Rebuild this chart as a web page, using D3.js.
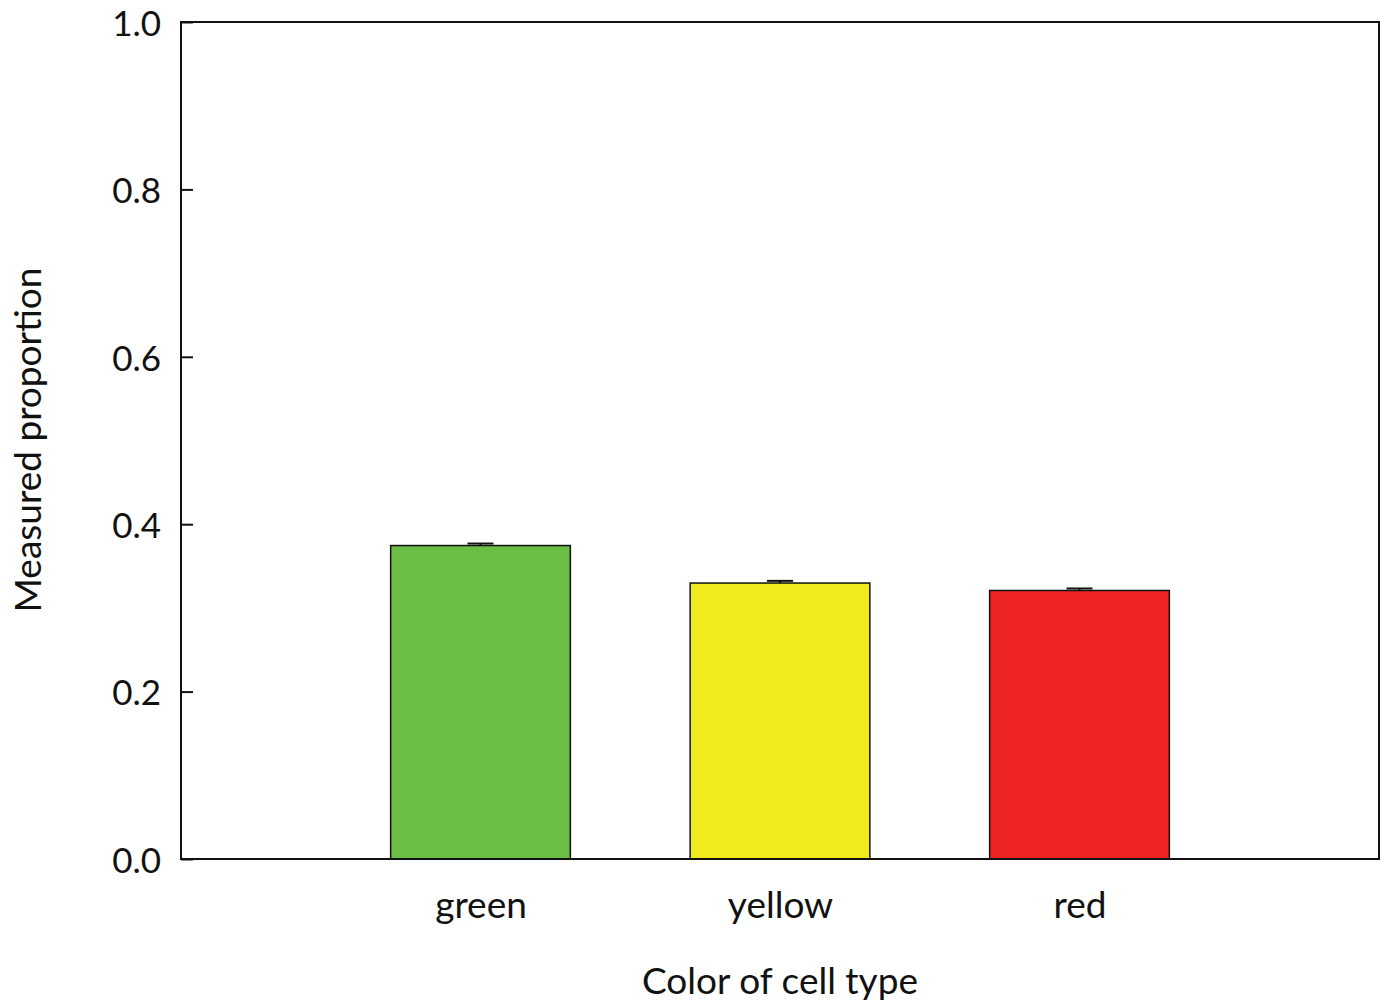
<!DOCTYPE html>
<html>
<head>
<meta charset="utf-8">
<script src="https://cdn.jsdelivr.net/npm/d3@7"></script>
<style>
  html, body { margin: 0; padding: 0; background: #fff; }
  svg text { font-family: Lato, "Open Sans", sans-serif; fill: #111; }
</style>
</head>
<body>
<svg id="chart" width="1380" height="1006"></svg>
<script>
// Measured proportion of each cell type (mean and upper error)
const categories = ["green", "yellow", "red"];
const positions = [1, 2, 3];
const values = [0.3745, 0.3297, 0.3208];
const errors = [0.0024, 0.0026, 0.0024];
const barColors = ["#6cbd45", "#f1ea1c", "#ee2424"];
const yTicks = [0.0, 0.2, 0.4, 0.6, 0.8, 1.0];

const svg = d3.select("#chart");
const margin = { left: 181, right: 1379, top: 22, bottom: 859 };

const x = d3.scaleLinear().domain([0, 4]).range([margin.left, margin.right]);
const y = d3.scaleLinear().domain([0, 1]).range([margin.bottom, margin.top]);
const barWidth = (x(1) - x(0)) * 0.6;

// Bars
svg.append("g").selectAll("rect")
  .data(values)
  .join("rect")
  .attr("x", (d, i) => x(positions[i]) - barWidth / 2)
  .attr("y", d => y(d))
  .attr("width", barWidth)
  .attr("height", d => y(0) - y(d))
  .attr("fill", (d, i) => barColors[i])
  .attr("stroke", "#111")
  .attr("stroke-width", 1.5);

// Upper error bars
const capHalf = 13;
const eb = svg.append("g").attr("stroke", "#111").attr("stroke-width", 2);
values.forEach((v, i) => {
  const cx = x(positions[i]);
  eb.append("line").attr("x1", cx).attr("x2", cx).attr("y1", y(v)).attr("y2", y(v + errors[i]));
  eb.append("line").attr("x1", cx - capHalf).attr("x2", cx + capHalf)
    .attr("y1", y(v + errors[i])).attr("y2", y(v + errors[i]));
});

// Y axis with inward ticks
const yAxis = d3.axisLeft(y).tickValues(yTicks).tickFormat(d3.format(".1f"))
  .tickSizeInner(-12).tickSizeOuter(0).tickPadding(20);
const gy = svg.append("g").attr("transform", `translate(${margin.left},0)`).call(yAxis);
gy.select(".domain").remove();
gy.selectAll("line").attr("stroke", "#111").attr("stroke-width", 2);
gy.selectAll("text").attr("font-size", 35).attr("dy", "0.38em")
  .style("font-family", "Lato, sans-serif").attr("fill", "#111");

// X axis labels
const xAxis = d3.axisBottom(x).tickValues(positions)
  .tickFormat((d, i) => categories[i]).tickSize(0).tickPadding(0);
const gx = svg.append("g").attr("transform", `translate(0,${margin.bottom})`).call(xAxis);
gx.select(".domain").remove();
gx.selectAll("text").attr("font-size", 37).attr("dy", null).attr("y", 59)
  .style("font-family", "Lato, sans-serif").attr("fill", "#111");

// Plot frame
svg.append("rect")
  .attr("x", margin.left).attr("y", margin.top)
  .attr("width", margin.right - margin.left).attr("height", margin.bottom - margin.top)
  .attr("fill", "none").attr("stroke", "#111").attr("stroke-width", 2);

// Axis titles
svg.append("text")
  .attr("x", (margin.left + margin.right) / 2).attr("y", 994)
  .attr("text-anchor", "middle").attr("font-size", 37)
  .text("Color of cell type");

svg.append("text")
  .attr("transform", `translate(41,440) rotate(-90)`)
  .attr("text-anchor", "middle").attr("font-size", 37)
  .text("Measured proportion");
</script>
</body>
</html>
